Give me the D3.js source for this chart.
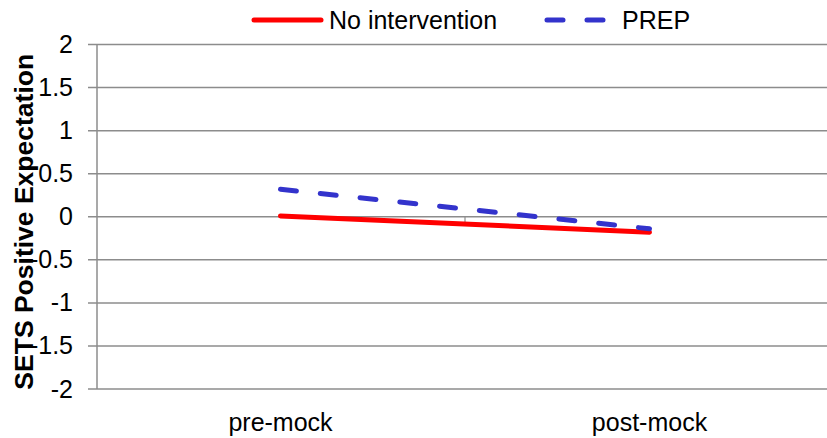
<!DOCTYPE html>
<html>
<head>
<meta charset="utf-8">
<script src="https://cdn.jsdelivr.net/npm/d3@7"></script>
<style>
  html, body { margin: 0; padding: 0; background: #fff; }
  svg { display: block; font-family: 'Liberation Sans', Arial, sans-serif; }
</style>
</head>
<body>
<div id="chart"></div>
<script>
// data
const categories = ['pre-mock', 'post-mock'];
const noIntervention = [0.01, -0.18];
const prep = [0.32, -0.14];
const seriesNames = ['No intervention', 'PREP'];
const yTicks = [2, 1.5, 1, 0.5, 0, -0.5, -1, -1.5, -2];

const width = 827;
const height = 438;
const margin = { top: 44.5, right: -7, bottom: 49, left: 96 };

const svg = d3.select('#chart')
  .append('svg')
  .attr('width', width)
  .attr('height', height);

const x = d3.scaleBand()
  .domain(categories)
  .range([margin.left, width - margin.right]);

const y = d3.scaleLinear()
  .domain([-2, 2])
  .range([height - margin.bottom, margin.top]);

// gridlines
svg.append('g')
  .selectAll('line')
  .data(yTicks)
  .enter()
  .append('line')
  .attr('x1', margin.left - 8)
  .attr('x2', width)
  .attr('y1', d => y(d))
  .attr('y2', d => y(d))
  .attr('stroke', '#8c8c8c')
  .attr('stroke-width', 1.5);

// y axis line
svg.append('line')
  .attr('x1', margin.left + 1)
  .attr('x2', margin.left + 1)
  .attr('y1', y(2))
  .attr('y2', y(-2))
  .attr('stroke', '#8c8c8c')
  .attr('stroke-width', 1.5);

// category tick on the zero line
svg.append('g')
  .selectAll('line')
  .data(categories.slice(1))
  .enter()
  .append('line')
  .attr('x1', d => x(d))
  .attr('x2', d => x(d))
  .attr('y1', y(0))
  .attr('y2', y(0) + 6)
  .attr('stroke', '#8c8c8c')
  .attr('stroke-width', 1.2);

// y tick labels
svg.append('g')
  .selectAll('text')
  .data(yTicks)
  .enter()
  .append('text')
  .attr('x', 73)
  .attr('y', d => y(d) + 8.5)
  .attr('text-anchor', 'end')
  .attr('font-size', 25)
  .attr('fill', '#000')
  .text(d => String(d));

// x labels
svg.append('g')
  .selectAll('text')
  .data(categories)
  .enter()
  .append('text')
  .attr('x', d => x(d) + x.bandwidth() / 2)
  .attr('y', 431)
  .attr('text-anchor', 'middle')
  .attr('font-size', 25)
  .attr('fill', '#000')
  .text(d => d);

// y title
svg.append('text')
  .attr('transform', `translate(33, ${y(0) + 5}) rotate(-90)`)
  .attr('text-anchor', 'middle')
  .attr('font-size', 26.5)
  .attr('font-weight', 'bold')
  .attr('fill', '#000')
  .text('SETS Positive Expectation');

const line = d3.line()
  .x((d, i) => x(categories[i]) + x.bandwidth() / 2)
  .y(d => y(d));

const series = [
  { name: seriesNames[0], values: noIntervention, color: '#ff0000', dash: null },
  { name: seriesNames[1], values: prep, color: '#3333cc', dash: '16 24' },
];

svg.append('g')
  .selectAll('path')
  .data(series)
  .enter()
  .append('path')
  .attr('d', d => line(d.values))
  .attr('fill', 'none')
  .attr('stroke', d => d.color)
  .attr('stroke-width', 5)
  .attr('stroke-linecap', 'round')
  .attr('stroke-dasharray', d => d.dash);

// legend
const legendPos = [252, 545];
const legend = svg.append('g')
  .selectAll('g')
  .data(series)
  .enter()
  .append('g')
  .attr('transform', (d, i) => `translate(${legendPos[i]}, 20)`);

legend.append('line')
  .attr('x1', 2)
  .attr('x2', (d, i) => (i === 0 ? 69 : 58))
  .attr('y1', 0)
  .attr('y2', 0)
  .attr('stroke', d => d.color)
  .attr('stroke-width', 5)
  .attr('stroke-linecap', 'round')
  .attr('stroke-dasharray', d => d.dash);

legend.append('text')
  .attr('x', 77)
  .attr('y', 8.5)
  .attr('font-size', 25)
  .attr('fill', '#000')
  .text(d => d.name);
</script>
</body>
</html>
